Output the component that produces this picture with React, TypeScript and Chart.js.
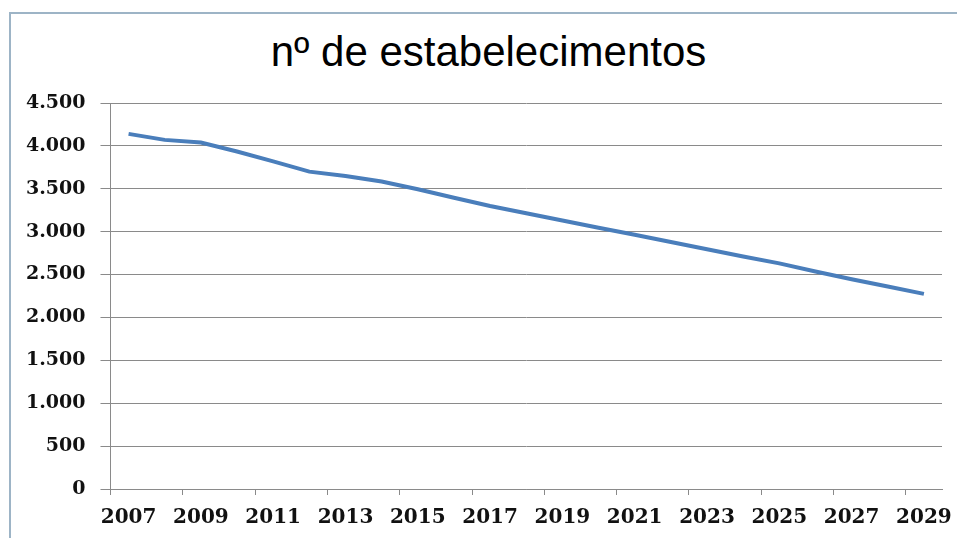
import { useEffect, useRef } from 'react';
import { Chart, registerables } from 'chart.js';

Chart.register(...registerables);

const TITLE = 'nº de estabelecimentos';

const years: string[] = [
  '2007', '2008', '2009', '2010', '2011', '2012', '2013', '2014', '2015', '2016', '2017', '2018',
  '2019', '2020', '2021', '2022', '2023', '2024', '2025', '2026', '2027', '2028', '2029',
];

const establishments: number[] = [
  4140, 4070, 4040, 3935, 3820, 3700, 3650, 3585, 3495, 3395, 3300, 3215,
  3130, 3045, 2965, 2880, 2795, 2710, 2630, 2535, 2445, 2360, 2275,
];

const yMin = 0;
const yMax = 4500;
const yStep = 500;

const GRID = '#8a8a8a';
const LINE = '#4A7EBB';

function fmt(v: number): string {
  return String(Math.round(v)).replace(/\B(?=(\d{3})+(?!\d))/g, '.');
}

export default function App() {
  const ref = useRef<HTMLCanvasElement>(null);

  useEffect(() => {
    if (!ref.current) return;
    const chart = new Chart(ref.current, {
      type: 'line',
      data: {
        labels: years,
        datasets: [
          {
            label: TITLE,
            data: establishments,
            borderColor: LINE,
            backgroundColor: LINE,
            borderWidth: 4,
            pointRadius: 0,
            tension: 0,
            fill: false,
          },
        ],
      },
      options: {
        responsive: false,
        animation: false,
        layout: { padding: { left: 11, right: 15, top: 103, bottom: -3 } },
        plugins: {
          legend: { display: false },
          tooltip: { enabled: false },
          title: { display: false },
        },
        scales: {
          x: {
            type: 'category',
            offset: true,
            grid: {
              offset: true,
              drawOnChartArea: false,
              drawTicks: true,
              tickLength: 6,
              tickColor: (ctx: any) =>
                typeof ctx.index === 'number' && ctx.index % 2 === 0 ? GRID : 'rgba(0,0,0,0)',
              color: GRID,
            },
            border: { display: true, color: GRID, width: 1 },
            ticks: {
              autoSkip: false,
              maxRotation: 0,
              minRotation: 0,
              padding: 3,
              color: '#111',
              font: { family: '"DejaVu Serif", serif', size: 20, weight: 'bold', lineHeight: 2 },
              callback: (_v: any, i: number) => (i % 2 === 0 ? years[i] : ''),
            },
          },
          y: {
            min: yMin,
            max: yMax,
            grid: {
              color: GRID,
              lineWidth: 1,
              drawTicks: true,
              tickLength: 10,
              tickColor: GRID,
            },
            border: { display: true, color: GRID, width: 1 },
            ticks: {
              stepSize: yStep,
              padding: 15,
              color: '#111',
              font: { family: '"DejaVu Serif", serif', size: 19, weight: 'bold', lineHeight: 1.2 },
              callback: (v: any) => fmt(Number(v)),
            },
          },
        },
      },
    });
    return () => chart.destroy();
  }, []);

  return (
    <div
      style={{
        position: 'fixed',
        left: 0,
        top: 0,
        width: 957,
        height: 538,
        background: '#fff',
        overflow: 'hidden',
      }}
    >
      <div
        style={{
          position: 'absolute',
          left: 9,
          top: 12,
          width: 960,
          height: 540,
          borderTop: '2px solid #9db4c6',
          borderLeft: '2px solid #9db4c6',
        }}
      />
      <div
        style={{
          position: 'absolute',
          left: 0,
          top: 27,
          width: 977,
          textAlign: 'center',
          fontFamily: '"Liberation Sans", Arial, sans-serif',
          fontSize: 42,
          lineHeight: '50px',
          color: '#000',
          whiteSpace: 'nowrap',
        }}
      >
        {TITLE}
      </div>
      <canvas
        ref={ref}
        width={957}
        height={538}
        style={{ position: 'absolute', left: 0, top: 0, width: 957, height: 538 }}
      />
    </div>
  );
}
